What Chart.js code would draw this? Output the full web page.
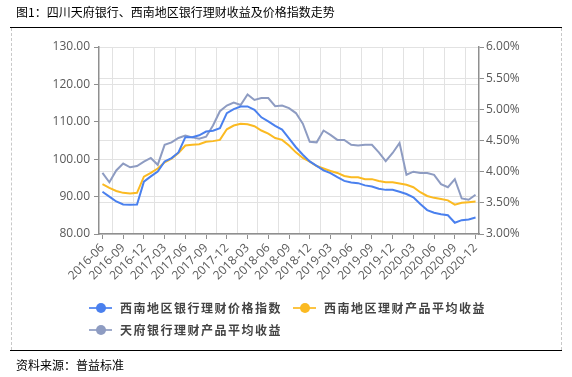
<!DOCTYPE html>
<html><head><meta charset="utf-8">
<script src="https://cdn.jsdelivr.net/npm/chart.js@4.4.1/dist/chart.umd.min.js"></script>
<style>
html,body{margin:0;padding:0;background:#fff;width:572px;height:377px;overflow:hidden;}
#wrap{position:relative;width:572px;height:377px;}
canvas{position:absolute;left:0;top:0;}
.t{position:absolute;font-family:"Noto Sans CJK SC";font-size:12px;color:#000;white-space:nowrap;line-height:14px;}
.hl{position:absolute;left:10px;width:552px;height:1px;background:#000;}
.box{position:absolute;left:11px;top:28px;width:549px;height:322px;border-left:1px dashed #c8c8c8;border-right:1px dashed #c8c8c8;}
.lg{position:absolute;font-family:"Noto Sans CJK SC";font-size:12px;font-weight:bold;letter-spacing:1.5px;color:#444;white-space:nowrap;line-height:14px;}
.mk{position:absolute;width:23px;height:2px;}
.dot{position:absolute;width:10px;height:10px;border-radius:50%;}
</style></head>
<body><div id="wrap">
<canvas id="c" width="572" height="377"></canvas>
<div class="box"></div>
<div class="hl" style="top:27px"></div>
<div class="hl" style="top:350px"></div>
<div class="t" style="left:16px;top:5px">图1：四川天府银行、西南地区银行理财收益及价格指数走势</div>
<div class="t" style="left:16px;top:358px">资料来源：普益标准</div>
<div id="legend"></div>
</div>
<script>
const categories = ['2016-06','2016-07','2016-08','2016-09','2016-10','2016-11','2016-12',
'2017-01','2017-02','2017-03','2017-04','2017-05','2017-06','2017-07','2017-08','2017-09','2017-10','2017-11','2017-12',
'2018-01','2018-02','2018-03','2018-04','2018-05','2018-06','2018-07','2018-08','2018-09','2018-10','2018-11','2018-12',
'2019-01','2019-02','2019-03','2019-04','2019-05','2019-06','2019-07','2019-08','2019-09','2019-10','2019-11','2019-12',
'2020-01','2020-02','2020-03','2020-04','2020-05','2020-06','2020-07','2020-08','2020-09','2020-10','2020-11','2020-12'];
const xTickLabels = ['2016-06','2016-09','2016-12','2017-03','2017-06','2017-09','2017-12','2018-03','2018-06','2018-09','2018-12','2019-03','2019-06','2019-09','2019-12','2020-03','2020-06','2020-09','2020-12'];
const leftTicks = [80,90,100,110,120,130];
const rightTicks = [3.0,3.5,4.0,4.5,5.0,5.5,6.0];
const seriesNames = ['西南地区银行理财价格指数','西南地区理财产品平均收益','天府银行理财产品平均收益'];
const priceIndex = [91.3,90.0,88.7,87.9,87.8,87.9,94.0,95.4,96.7,99.4,
100.3,101.8,105.9,105.9,106.4,107.4,107.6,108.3,112.3,113.4,
114.1,114.1,113.2,111.2,110.1,108.9,107.9,105.6,103.2,101.2,
99.4,98.2,97.0,96.3,95.2,94.2,93.8,93.6,93.0,92.7,
92.1,91.8,91.8,91.3,90.7,89.8,88.0,86.4,85.7,85.3,
85.0,83.0,83.7,83.9,84.4];
const regionYield = [3.80,3.74,3.69,3.66,3.65,3.66,3.92,3.98,4.05,4.15,
4.21,4.30,4.42,4.43,4.44,4.48,4.49,4.51,4.68,4.74,
4.77,4.76,4.73,4.66,4.61,4.54,4.51,4.42,4.31,4.22,
4.16,4.09,4.05,4.01,3.98,3.93,3.91,3.91,3.88,3.88,
3.85,3.83,3.83,3.81,3.79,3.75,3.67,3.61,3.58,3.56,
3.54,3.47,3.50,3.51,3.52];
const tianfuYield = [3.98,3.83,4.02,4.13,4.07,4.09,4.16,4.22,4.11,4.43,
4.47,4.54,4.58,4.55,4.53,4.56,4.74,4.97,5.06,5.11,
5.07,5.24,5.15,5.18,5.18,5.05,5.06,5.02,4.94,4.77,
4.48,4.47,4.66,4.59,4.51,4.51,4.43,4.42,4.43,4.43,
4.31,4.17,4.30,4.46,3.95,4.00,3.98,3.98,3.95,3.80,
3.75,3.88,3.57,3.55,3.63];

const colors = ['#4A80EE','#FBBA22','#8E9CC2'];
const markerColors = ['#4A80EE','#FBBA22','#8E9CC2'];

// HTML legend
const lgPos = [[89,301],[293,301],[89,323]];
const lgEl = document.getElementById('legend');
seriesNames.forEach((n,i)=>{
  const [x,y]=lgPos[i];
  lgEl.insertAdjacentHTML('beforeend',
    `<div class="mk" style="left:${x}px;top:${y+6}px;background:${markerColors[i]};opacity:0.85"></div>`+
    `<div class="dot" style="left:${x+7}px;top:${y+2}px;background:${markerColors[i]}"></div>`+
    `<div class="lg" style="left:${x+31}px;top:${y}px">${n}</div>`);
});

const axisColor = '#8f8f8f';
const gridColor = '#e2e2e2';
const tickFont = {family:'"Open Sans"', size:12};

new Chart(document.getElementById('c'), {
  type:'line',
  data:{
    labels:categories,
    datasets:[
      {label:seriesNames[0],data:priceIndex,yAxisID:'yL',borderColor:colors[0],borderWidth:2,pointRadius:0,tension:0},
      {label:seriesNames[1],data:regionYield,yAxisID:'yR',borderColor:colors[1],borderWidth:2,pointRadius:0,tension:0},
      {label:seriesNames[2],data:tianfuYield,yAxisID:'yR',borderColor:colors[2],borderWidth:2,pointRadius:0,tension:0}
    ]
  },
  options:{
    responsive:false,animation:false,devicePixelRatio:1,
    layout:{padding:{left:10,right:43,top:47,bottom:93}},
    plugins:{legend:{display:false},tooltip:{enabled:false}},
    scales:{
      x:{
        type:'category',position:'bottom',offset:true,
        afterFit:s=>{s.height=50;},
        border:{display:true,color:axisColor,width:1.5},
        grid:{display:true,offset:false,drawOnChartArea:false,drawTicks:true,tickLength:5,
          tickColor:ctx=>xTickLabels.includes(categories[ctx.index])?axisColor:'rgba(0,0,0,0)'},
        ticks:{autoSkip:false,maxRotation:45,minRotation:45,padding:2,color:'#595959',font:tickFont,
          callback:(v,i)=>xTickLabels.includes(categories[i])?categories[i]:''}
      },
      xg:{
        type:'category',position:'bottom',offset:true,
        afterFit:s=>{s.height=0;},
        border:{display:false},
        grid:{display:true,offset:true,drawTicks:false,borderDash:[4,4],
          color:ctx=>(ctx.index%3===2 && ctx.index<categories.length)?gridColor:'rgba(0,0,0,0)'},
        ticks:{display:false}
      },
      yL:{
        type:'linear',position:'left',min:80,max:130,
        afterFit:s=>{s.width=89;},
        afterBuildTicks:s=>{s.ticks=leftTicks.map(v=>({value:v}));},
        border:{display:true,color:axisColor,width:1.5},
        grid:{color:gridColor,borderDash:[4,4],tickLength:5,tickColor:axisColor,tickBorderDash:[]},
        ticks:{padding:4,color:'#595959',font:tickFont,callback:v=>v.toFixed(2)}
      },
      yR:{
        type:'linear',position:'right',min:3,max:6,
        afterFit:s=>{s.width=50;},
        afterBuildTicks:s=>{s.ticks=rightTicks.map(v=>({value:v}));},
        border:{display:true,color:axisColor,width:1.5},
        grid:{color:gridColor,borderDash:[4,4],tickLength:5,tickColor:axisColor,tickBorderDash:[]},
        ticks:{padding:2,color:'#595959',font:tickFont,callback:v=>v.toFixed(2)+'%'}
      }
    }
  }
});
</script>
</body></html>
